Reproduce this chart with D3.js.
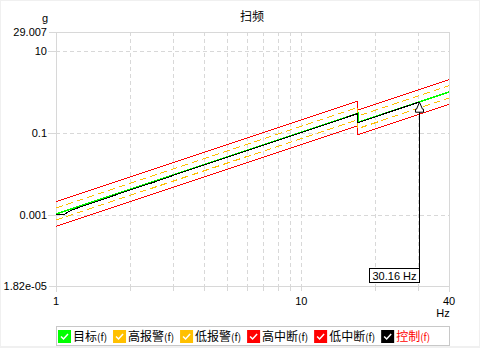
<!DOCTYPE html>
<html lang="zh">
<head>
<meta charset="utf-8">
<title>扫频</title>
<script src="https://cdnjs.cloudflare.com/ajax/libs/d3/7.8.5/d3.min.js"></script>
<style>
  body { margin: 0; background: #f0f0f0; }
  svg text { font-family: "Liberation Sans", "Noto Sans CJK SC", sans-serif; font-size: 11px; fill: #000; }
  .cjk { font-family: "Noto Sans CJK SC", "Liberation Sans", sans-serif; font-size: 12px; }
</style>
</head>
<body>
<script>
// profile break points (Hz) and levels (g)
var profileFreq = [1, 17, 17, 40];
var targetVal   = [0.00104, 0.30, 0.18, 1.0];
var highAlarm   = [0.00147, 0.42, 0.255, 1.41];
var lowAlarm    = [0.00074, 0.21, 0.127, 0.71];
var highAbort   = [0.0021, 0.60, 0.36, 2.0];
var lowAbort    = [0.00052, 0.15, 0.09, 0.5];

// measured control signal up to current sweep frequency
var ctrlFreq = [1, 1.08, 1.15, 1.3, 1.6, 2, 2.5, 3, 4, 5, 6, 8, 10, 12, 14, 16.9, 17, 18, 20, 22, 25, 28, 30.16];
var ctrlVal  = [0.00102, 0.00102, 0.00128, 0.00166, 0.00253, 0.0040, 0.0062, 0.0091, 0.0163, 0.0255, 0.0368,
                0.065, 0.102, 0.147, 0.200, 0.292, 0.178, 0.199, 0.246, 0.298, 0.385, 0.482, 0.56];

var cursorFreq = 30.16;

var xTicks = [1, 10, 40];
var xGrid = [2, 3, 4, 5, 6, 7, 8, 9, 10, 20, 30];
var yTicks = [10, 0.1, 0.001];
var yMin = 1.82e-5, yMax = 29.007;

var legendNames = ["目标", "高报警", "低报警", "高中断", "低中断", "控制"];
var legendColors = ["#00ff00", "#ffc000", "#ffc000", "#ff0000", "#ff0000", "#000000"];

var w = 480, h = 348;
var pLeft = 56, pRight = 449, pTop = 32, pBottom = 286;

var svg = d3.select("body").append("svg").attr("width", w).attr("height", h);
svg.append("rect").attr("width", w).attr("height", h).attr("fill", "#f0f0f0");
svg.append("rect").attr("x", 1).attr("y", 1).attr("width", 478).attr("height", 345).attr("fill", "#fff");

var x = d3.scaleLog().domain([1, 40]).range([pLeft, pRight]);
var y = d3.scaleLog().domain([yMin, yMax]).range([pBottom, pTop]);

var grid = svg.append("g").attr("shape-rendering", "crispEdges");
// vertical grid (dashed) with short ticks below
xGrid.forEach(function(f) {
  var gx = Math.round(x(f)) + 0.5;
  grid.append("line").attr("x1", gx).attr("x2", gx).attr("y1", pTop).attr("y2", pBottom)
    .attr("stroke", "#d8d8d8").attr("stroke-dasharray", "4,3");
  grid.append("line").attr("x1", gx).attr("x2", gx).attr("y1", pBottom).attr("y2", pBottom + 5)
    .attr("stroke", "#d8d8d8");
});
yTicks.forEach(function(v) {
  var gy = Math.round(y(v)) + 0.5;
  grid.append("line").attr("x1", pLeft).attr("x2", pRight).attr("y1", gy).attr("y2", gy)
    .attr("stroke", "#d8d8d8").attr("stroke-dasharray", "4,3");
  grid.append("line").attr("x1", pLeft - 8).attr("x2", pLeft).attr("y1", gy).attr("y2", gy)
    .attr("stroke", "#d8d8d8");
});
// frame
[[pLeft - 8, pTop, pRight, pTop], [pLeft - 8, pBottom, pRight, pBottom],
 [pLeft, pTop, pLeft, pBottom + 5], [pRight, pTop, pRight, pBottom + 5]].forEach(function(s) {
  grid.append("line").attr("x1", s[0] + 0.5).attr("y1", s[1] + 0.5).attr("x2", s[2] + 0.5).attr("y2", s[3] + 0.5)
    .attr("stroke", "#d8d8d8");
});

// axis labels
var yLabels = [yMax].concat(yTicks).concat([yMin]);
var yFmt = function(v) { return v === yMax ? "29.007" : v === yMin ? "1.82e-05" : String(v); };
svg.selectAll(".ylab").data(yLabels).enter().append("text")
  .attr("x", 47).attr("y", function(d) { return y(d) + 4; })
  .attr("text-anchor", "end").text(yFmt);
svg.append("text").attr("x", 45).attr("y", 22).attr("text-anchor", "middle").text("g");

svg.selectAll(".xlab").data(xTicks).enter().append("text")
  .attr("x", function(d) { return x(d); }).attr("y", 305)
  .attr("text-anchor", "middle").text(function(d) { return d; });
svg.append("text").attr("x", 443).attr("y", 317).attr("text-anchor", "middle").text("Hz");

svg.append("text").attr("class", "cjk").attr("x", 252).attr("y", 21)
  .attr("text-anchor", "middle").text("扫频");

// profile lines
var line = d3.line().x(function(d) { return x(d[0]); }).y(function(d) { return y(d[1]); });
function pts(fs, vs) { return fs.map(function(f, i) { return [f, vs[i]]; }); }

var lines = svg.append("g").attr("fill", "none").attr("shape-rendering", "crispEdges");
lines.append("path").attr("d", line(pts(profileFreq, highAbort))).attr("stroke", "#ff0000");
lines.append("path").attr("d", line(pts(profileFreq, lowAbort))).attr("stroke", "#ff0000");
lines.append("path").attr("d", line(pts(profileFreq, highAlarm))).attr("stroke", "#ffc000").attr("stroke-dasharray", "7,4");
lines.append("path").attr("d", line(pts(profileFreq, lowAlarm))).attr("stroke", "#ffc000").attr("stroke-dasharray", "7,4");
lines.append("path").attr("d", line(pts(profileFreq, targetVal))).attr("stroke", "#00ff00").attr("stroke-width", 1.5);
lines.append("path").attr("d", line(pts(ctrlFreq, ctrlVal))).attr("stroke", "#000");

// cursor
var cx = Math.round(x(cursorFreq)) + 0.5;
var cy = y(ctrlVal[ctrlVal.length - 1]);
svg.append("line").attr("x1", cx).attr("x2", cx).attr("y1", cy + 10).attr("y2", 269)
  .attr("stroke", "#000").attr("shape-rendering", "crispEdges");
svg.append("path")
  .attr("d", "M" + cx + "," + cy + " L" + (cx + 3) + "," + (cy + 7) + " L" + (cx + 4) + "," + (cy + 7) +
             " L" + (cx + 4) + "," + (cy + 10) + " L" + (cx - 4) + "," + (cy + 10) + " L" + (cx - 4) + "," + (cy + 7) +
             " L" + (cx - 3) + "," + (cy + 7) + " Z")
  .attr("fill", "#fff").attr("stroke", "#000");
var lab = svg.append("g");
var labText = lab.append("text").attr("x", cx - 3).attr("y", 280).attr("text-anchor", "end")
  .text(cursorFreq.toFixed(2) + " Hz");
var tw = labText.node().getComputedTextLength();
lab.insert("rect", "text").attr("x", cx - tw - 6).attr("y", 268.5).attr("width", tw + 6).attr("height", 14)
  .attr("fill", "#fff").attr("stroke", "#000").attr("shape-rendering", "crispEdges");

// legend
var leg = svg.append("g");
leg.append("rect").attr("x", 56.5).attr("y", 326.5).attr("width", 393).attr("height", 19)
  .attr("fill", "#fff").attr("stroke", "#c8c8c8");
var lx = 58;
legendNames.forEach(function(name, i) {
  var g = leg.append("g").attr("transform", "translate(" + lx + ",330)");
  g.append("rect").attr("width", 13).attr("height", 13).attr("fill", legendColors[i]);
  g.append("path").attr("d", "M3,6.5 L5.5,9 L10,4").attr("fill", "none").attr("stroke", "#fff").attr("stroke-width", 1.5);
  var t = g.append("text").attr("class", "cjk").attr("x", 15).attr("y", 11)
    .style("fill", i === 5 ? "#ff0000" : "#000");
  t.append("tspan").text(name);
  t.append("tspan").style("font-size", "10px").text("(f)");
  lx += 15 + t.node().getComputedTextLength() + 6;
});
</script>
</body>
</html>
